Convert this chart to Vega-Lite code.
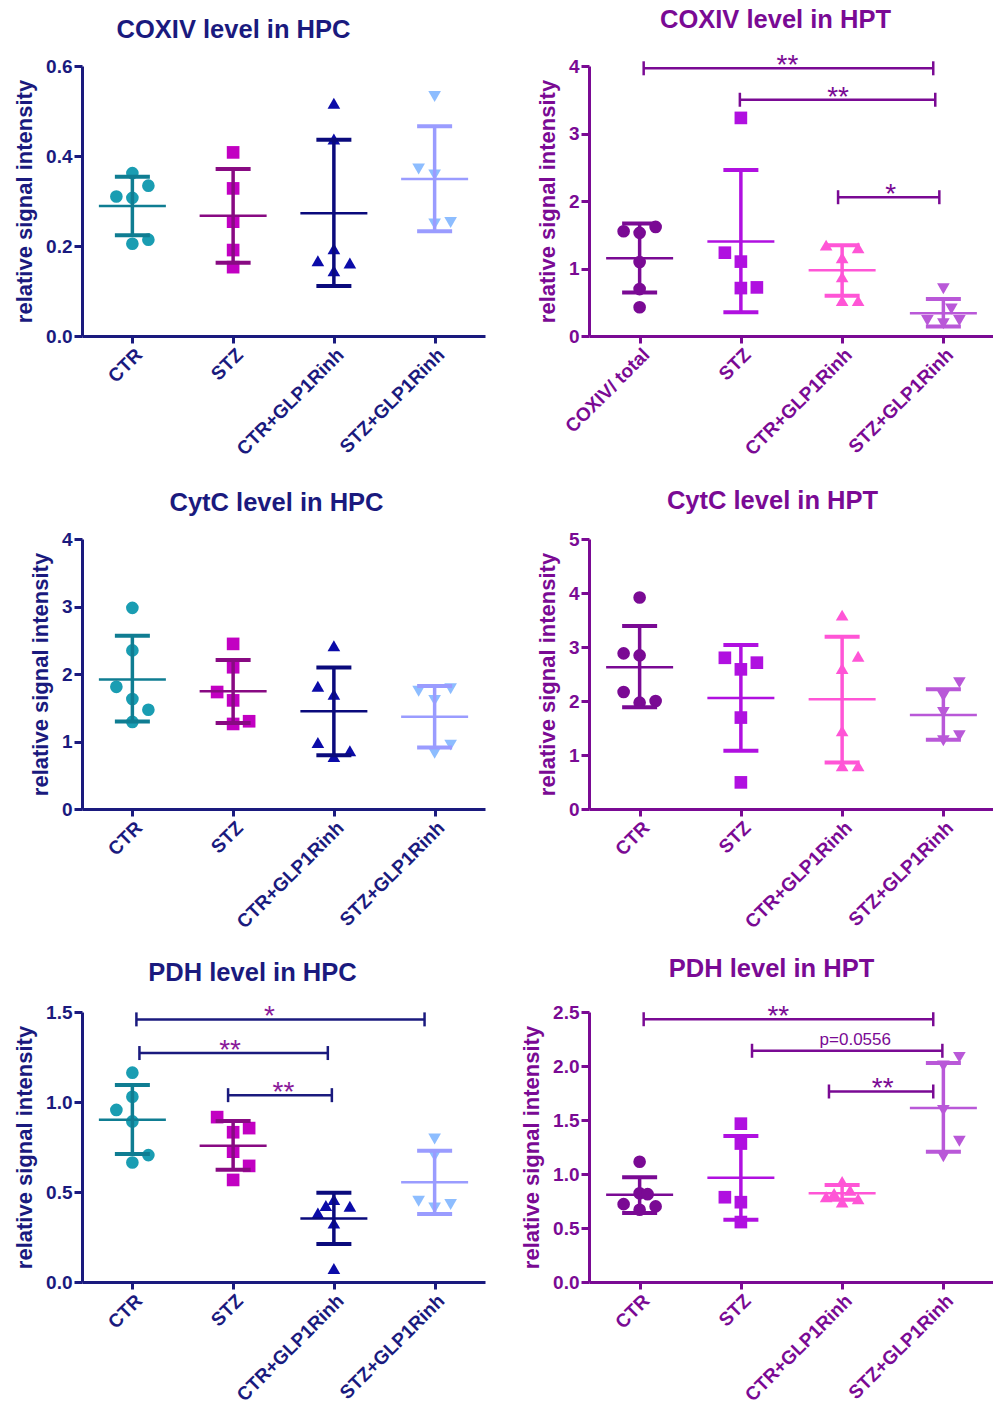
{
"$schema": "https://vega.github.io/schema/vega-lite/v6.json",
"padding": {"left": 13, "top": 7, "right": 0, "bottom": 0},
"columns": 2,
"bounds": "flush",
"spacing": {"row": 203, "column": 104},
"config": {
  "font": "Liberation Sans",
  "view": {"stroke": null},
  "axis": {"grid": false, "domainWidth": 3, "tickWidth": 3, "tickSize": 8, "labelFont": "Liberation Sans", "labelFontSize": 19, "labelFontWeight": "bold", "labelPadding": 2, "titleFont": "Liberation Sans", "titleFontSize": 22, "titleFontWeight": "bold", "titlePadding": 9},
  "title": {"font": "Liberation Sans", "fontSize": 25.5, "fontWeight": "bold", "anchor": "middle", "frame": "group", "offset": 14}
},
"datasets": {
  "pts": [
    {"panel":"A","group":"CTR","col":0,"v":0.362},{"panel":"A","group":"CTR","col":1,"v":0.334},{"panel":"A","group":"CTR","col":-1,"v":0.310},{"panel":"A","group":"CTR","col":0,"v":0.307},{"panel":"A","group":"CTR","col":0,"v":0.205},{"panel":"A","group":"CTR","col":1,"v":0.214},
    {"panel":"A","group":"STZ","col":0,"v":0.408},{"panel":"A","group":"STZ","col":0,"v":0.328},{"panel":"A","group":"STZ","col":0,"v":0.254},{"panel":"A","group":"STZ","col":0,"v":0.191},{"panel":"A","group":"STZ","col":0,"v":0.153},
    {"panel":"A","group":"CTR+GLP1Rinh","col":0,"v":0.517},{"panel":"A","group":"CTR+GLP1Rinh","col":0,"v":0.438},{"panel":"A","group":"CTR+GLP1Rinh","col":0,"v":0.194},{"panel":"A","group":"CTR+GLP1Rinh","col":-1,"v":0.167},{"panel":"A","group":"CTR+GLP1Rinh","col":1,"v":0.162},{"panel":"A","group":"CTR+GLP1Rinh","col":0,"v":0.145},
    {"panel":"A","group":"STZ+GLP1Rinh","col":0,"v":0.532},{"panel":"A","group":"STZ+GLP1Rinh","col":-1,"v":0.371},{"panel":"A","group":"STZ+GLP1Rinh","col":0,"v":0.358},{"panel":"A","group":"STZ+GLP1Rinh","col":0,"v":0.249},{"panel":"A","group":"STZ+GLP1Rinh","col":1,"v":0.252},

    {"panel":"B","group":"CTR","col":-1,"v":1.552},{"panel":"B","group":"CTR","col":0,"v":1.528},{"panel":"B","group":"CTR","col":1,"v":1.616},{"panel":"B","group":"CTR","col":0,"v":1.097},{"panel":"B","group":"CTR","col":0,"v":0.695},{"panel":"B","group":"CTR","col":0,"v":0.426},
    {"panel":"B","group":"STZ","col":0,"v":3.231},{"panel":"B","group":"STZ","col":-1,"v":1.234},{"panel":"B","group":"STZ","col":0,"v":1.102},{"panel":"B","group":"STZ","col":0,"v":0.71},{"panel":"B","group":"STZ","col":1,"v":0.72},
    {"panel":"B","group":"CTR+GLP1Rinh","col":-1,"v":1.346},{"panel":"B","group":"CTR+GLP1Rinh","col":1,"v":1.307},{"panel":"B","group":"CTR+GLP1Rinh","col":0,"v":1.16},{"panel":"B","group":"CTR+GLP1Rinh","col":0,"v":0.876},{"panel":"B","group":"CTR+GLP1Rinh","col":0,"v":0.524},{"panel":"B","group":"CTR+GLP1Rinh","col":1,"v":0.524},
    {"panel":"B","group":"STZ+GLP1Rinh","col":0,"v":0.70},{"panel":"B","group":"STZ+GLP1Rinh","col":0.5,"v":0.40},{"panel":"B","group":"STZ+GLP1Rinh","col":-1,"v":0.23},{"panel":"B","group":"STZ+GLP1Rinh","col":1,"v":0.23},{"panel":"B","group":"STZ+GLP1Rinh","col":0,"v":0.18},

    {"panel":"C","group":"CTR","col":0,"v":2.98},{"panel":"C","group":"CTR","col":0,"v":2.35},{"panel":"C","group":"CTR","col":-1,"v":1.81},{"panel":"C","group":"CTR","col":0,"v":1.63},{"panel":"C","group":"CTR","col":1,"v":1.47},{"panel":"C","group":"CTR","col":0,"v":1.29},
    {"panel":"C","group":"STZ","col":0,"v":2.446},{"panel":"C","group":"STZ","col":0,"v":2.10},{"panel":"C","group":"STZ","col":-1,"v":1.733},{"panel":"C","group":"STZ","col":0,"v":1.609},{"panel":"C","group":"STZ","col":1,"v":1.30},{"panel":"C","group":"STZ","col":0,"v":1.26},
    {"panel":"C","group":"CTR+GLP1Rinh","col":0,"v":2.42},{"panel":"C","group":"CTR+GLP1Rinh","col":-1,"v":1.82},{"panel":"C","group":"CTR+GLP1Rinh","col":0,"v":1.70},{"panel":"C","group":"CTR+GLP1Rinh","col":-1,"v":0.986},{"panel":"C","group":"CTR+GLP1Rinh","col":1,"v":0.862},{"panel":"C","group":"CTR+GLP1Rinh","col":0,"v":0.777},
    {"panel":"C","group":"STZ+GLP1Rinh","col":-1,"v":1.743},{"panel":"C","group":"STZ+GLP1Rinh","col":1,"v":1.78},{"panel":"C","group":"STZ+GLP1Rinh","col":0,"v":1.609},{"panel":"C","group":"STZ+GLP1Rinh","col":1,"v":0.946},{"panel":"C","group":"STZ+GLP1Rinh","col":0,"v":0.827},

    {"panel":"D","group":"CTR","col":0,"v":3.916},{"panel":"D","group":"CTR","col":-1,"v":2.882},{"panel":"D","group":"CTR","col":0,"v":2.845},{"panel":"D","group":"CTR","col":-1,"v":2.167},{"panel":"D","group":"CTR","col":0,"v":1.97},{"panel":"D","group":"CTR","col":1,"v":2.0},
    {"panel":"D","group":"STZ","col":-1,"v":2.80},{"panel":"D","group":"STZ","col":1,"v":2.71},{"panel":"D","group":"STZ","col":0,"v":2.586},{"panel":"D","group":"STZ","col":0,"v":1.693},{"panel":"D","group":"STZ","col":0,"v":0.493},
    {"panel":"D","group":"CTR+GLP1Rinh","col":0,"v":3.59},{"panel":"D","group":"CTR+GLP1Rinh","col":1,"v":2.83},{"panel":"D","group":"CTR+GLP1Rinh","col":0,"v":2.60},{"panel":"D","group":"CTR+GLP1Rinh","col":0,"v":1.447},{"panel":"D","group":"CTR+GLP1Rinh","col":0,"v":0.80},{"panel":"D","group":"CTR+GLP1Rinh","col":1,"v":0.80},
    {"panel":"D","group":"STZ+GLP1Rinh","col":1,"v":2.34},{"panel":"D","group":"STZ+GLP1Rinh","col":0,"v":2.09},{"panel":"D","group":"STZ+GLP1Rinh","col":0,"v":1.786},{"panel":"D","group":"STZ+GLP1Rinh","col":1,"v":1.355},{"panel":"D","group":"STZ+GLP1Rinh","col":0,"v":1.262},

    {"panel":"E","group":"CTR","col":0,"v":1.163},{"panel":"E","group":"CTR","col":0,"v":1.029},{"panel":"E","group":"CTR","col":-1,"v":0.956},{"panel":"E","group":"CTR","col":0,"v":0.892},{"panel":"E","group":"CTR","col":1,"v":0.705},{"panel":"E","group":"CTR","col":0,"v":0.664},
    {"panel":"E","group":"STZ","col":-1,"v":0.916},{"panel":"E","group":"STZ","col":1,"v":0.855},{"panel":"E","group":"STZ","col":0,"v":0.832},{"panel":"E","group":"STZ","col":0,"v":0.724},{"panel":"E","group":"STZ","col":1,"v":0.645},{"panel":"E","group":"STZ","col":0,"v":0.567},
    {"panel":"E","group":"CTR+GLP1Rinh","col":0,"v":0.458},{"panel":"E","group":"CTR+GLP1Rinh","col":-0.5,"v":0.425},{"panel":"E","group":"CTR+GLP1Rinh","col":-1,"v":0.383},{"panel":"E","group":"CTR+GLP1Rinh","col":1,"v":0.421},{"panel":"E","group":"CTR+GLP1Rinh","col":0,"v":0.327},{"panel":"E","group":"CTR+GLP1Rinh","col":0,"v":0.075},
    {"panel":"E","group":"STZ+GLP1Rinh","col":0,"v":0.795},{"panel":"E","group":"STZ+GLP1Rinh","col":0,"v":0.70},{"panel":"E","group":"STZ+GLP1Rinh","col":-1,"v":0.449},{"panel":"E","group":"STZ+GLP1Rinh","col":1,"v":0.43},{"panel":"E","group":"STZ+GLP1Rinh","col":0,"v":0.411},

    {"panel":"F","group":"CTR","col":0,"v":1.113},{"panel":"F","group":"CTR","col":0,"v":0.822},{"panel":"F","group":"CTR","col":0.5,"v":0.813},{"panel":"F","group":"CTR","col":-1,"v":0.721},{"panel":"F","group":"CTR","col":1,"v":0.70},{"panel":"F","group":"CTR","col":0,"v":0.669},
    {"panel":"F","group":"STZ","col":0,"v":1.466},{"panel":"F","group":"STZ","col":0,"v":1.282},{"panel":"F","group":"STZ","col":-1,"v":0.785},{"panel":"F","group":"STZ","col":0,"v":0.739},{"panel":"F","group":"STZ","col":0,"v":0.555},
    {"panel":"F","group":"CTR+GLP1Rinh","col":0,"v":0.93},{"panel":"F","group":"CTR+GLP1Rinh","col":0.5,"v":0.85},{"panel":"F","group":"CTR+GLP1Rinh","col":-0.5,"v":0.82},{"panel":"F","group":"CTR+GLP1Rinh","col":-1,"v":0.79},{"panel":"F","group":"CTR+GLP1Rinh","col":1,"v":0.77},{"panel":"F","group":"CTR+GLP1Rinh","col":0,"v":0.74},
    {"panel":"F","group":"STZ+GLP1Rinh","col":1,"v":2.08},{"panel":"F","group":"STZ+GLP1Rinh","col":0,"v":2.0},{"panel":"F","group":"STZ+GLP1Rinh","col":0,"v":1.589},{"panel":"F","group":"STZ+GLP1Rinh","col":1,"v":1.304},{"panel":"F","group":"STZ+GLP1Rinh","col":0,"v":1.16}
  ],
  "sum": [
    {"panel":"A","group":"CTR","mean":0.289,"lo":0.224,"hi":0.354},{"panel":"A","group":"STZ","mean":0.267,"lo":0.163,"hi":0.371},{"panel":"A","group":"CTR+GLP1Rinh","mean":0.273,"lo":0.111,"hi":0.436},{"panel":"A","group":"STZ+GLP1Rinh","mean":0.349,"lo":0.233,"hi":0.466},
    {"panel":"B","group":"CTR","mean":1.151,"lo":0.646,"hi":1.665},{"panel":"B","group":"STZ","mean":1.40,"lo":0.353,"hi":2.458},{"panel":"B","group":"CTR+GLP1Rinh","mean":0.974,"lo":0.597,"hi":1.346},{"panel":"B","group":"STZ+GLP1Rinh","mean":0.338,"lo":0.141,"hi":0.548},
    {"panel":"C","group":"CTR","mean":1.92,"lo":1.295,"hi":2.565},{"panel":"C","group":"STZ","mean":1.743,"lo":1.275,"hi":2.207},{"panel":"C","group":"CTR+GLP1Rinh","mean":1.45,"lo":0.797,"hi":2.097},{"panel":"C","group":"STZ+GLP1Rinh","mean":1.365,"lo":0.912,"hi":1.823},
    {"panel":"D","group":"CTR","mean":2.623,"lo":1.884,"hi":3.387},{"panel":"D","group":"STZ","mean":2.057,"lo":1.078,"hi":3.036},{"panel":"D","group":"CTR+GLP1Rinh","mean":2.032,"lo":0.862,"hi":3.19},{"panel":"D","group":"STZ+GLP1Rinh","mean":1.743,"lo":1.281,"hi":2.217},
    {"panel":"E","group":"CTR","mean":0.901,"lo":0.711,"hi":1.094},{"panel":"E","group":"STZ","mean":0.757,"lo":0.623,"hi":0.894},{"panel":"E","group":"CTR+GLP1Rinh","mean":0.353,"lo":0.211,"hi":0.496},{"panel":"E","group":"STZ+GLP1Rinh","mean":0.554,"lo":0.378,"hi":0.729},
    {"panel":"F","group":"CTR","mean":0.807,"lo":0.638,"hi":0.969},{"panel":"F","group":"STZ","mean":0.966,"lo":0.577,"hi":1.353},{"panel":"F","group":"CTR+GLP1Rinh","mean":0.822,"lo":0.761,"hi":0.899},{"panel":"F","group":"STZ+GLP1Rinh","mean":1.61,"lo":1.206,"hi":2.028}
  ],
  "brk": [
    {"panel":"B","a":1.04,"b":3.90,"y":3.966,"lx":2.46,"label":"**"},
    {"panel":"B","a":1.99,"b":3.92,"y":3.50,"lx":2.96,"label":"**"},
    {"panel":"B","a":2.96,"b":3.96,"y":2.056,"lx":3.48,"label":"*"},
    {"panel":"E","a":1.04,"b":3.90,"y":1.459,"lx":2.36,"label":"*"},
    {"panel":"E","a":1.07,"b":2.94,"y":1.272,"lx":1.97,"label":"**"},
    {"panel":"E","a":1.95,"b":2.98,"y":1.038,"lx":2.5,"label":"**"},
    {"panel":"F","a":1.04,"b":3.90,"y":2.433,"lx":2.37,"label":"**"},
    {"panel":"F","a":2.11,"b":3.99,"y":2.141,"lx":3.13,"label":"p=0.0556"},
    {"panel":"F","a":2.87,"b":3.90,"y":1.764,"lx":3.40,"label":"**"}
  ]
},
"concat": [
  {
    "width": 403, "height": 270,
    "title": {"text": "COXIV level in HPC", "color": "#1a1a7e", "dx": -50},
    "layer": [
      {"data": {"name": "pts"}, "transform": [{"filter": "datum.panel=='A'"}],
       "mark": {"type": "point", "filled": true, "opacity": 1, "size": 160},
       "encoding": {
         "x": {"field": "group", "type": "nominal", "scale": {"type": "point", "domain": ["CTR","STZ","CTR+GLP1Rinh","STZ+GLP1Rinh"], "padding": 0.5},
               "axis": {"labelAngle": -45, "title": null, "tickSize": 7, "domainColor": "#1a1a7e", "tickColor": "#1a1a7e", "labelColor": "#1a1a7e"}},
         "xOffset": {"field": "col", "type": "quantitative", "scale": {"domain": [-1, 1], "range": [-16, 16]}},
         "y": {"field": "v", "type": "quantitative", "scale": {"domain": [0, 0.6], "nice": false},
               "axis": {"values": [0, 0.2, 0.4, 0.6], "format": ".1f", "title": "relative signal intensity", "domainColor": "#1a1a7e", "tickColor": "#1a1a7e", "labelColor": "#1a1a7e", "titleColor": "#1a1a7e"}},
         "color": {"field": "group", "type": "nominal", "scale": {"domain": ["CTR","STZ","CTR+GLP1Rinh","STZ+GLP1Rinh"], "range": ["#1a9db2","#c200c2","#0b0ba8","#8dbdff"]}, "legend": null},
         "shape": {"field": "group", "type": "nominal", "scale": {"domain": ["CTR","STZ","CTR+GLP1Rinh","STZ+GLP1Rinh"], "range": ["circle","square","triangle-up","triangle-down"]}, "legend": null}
       }},
      {"data": {"name": "sum"}, "transform": [{"filter": "datum.panel=='A'"}],
       "encoding": {"x": {"field": "group", "type": "nominal", "scale": {"type": "point", "domain": ["CTR","STZ","CTR+GLP1Rinh","STZ+GLP1Rinh"], "padding": 0.5}, "axis": null},
                    "color": {"field": "group", "type": "nominal", "scale": {"domain": ["CTR","STZ","CTR+GLP1Rinh","STZ+GLP1Rinh"], "range": ["#0f7d92","#880a82","#0a0a7c","#9a9cff"]}, "legend": null}},
       "layer": [
         {"mark": {"type": "rule", "strokeWidth": 3.5}, "encoding": {"y": {"field": "lo", "type": "quantitative"}, "y2": {"field": "hi"}}},
         {"mark": {"type": "tick", "orient": "horizontal", "size": 35, "thickness": 4, "opacity": 1}, "encoding": {"y": {"field": "lo", "type": "quantitative"}}},
         {"mark": {"type": "tick", "orient": "horizontal", "size": 35, "thickness": 4, "opacity": 1}, "encoding": {"y": {"field": "hi", "type": "quantitative"}}},
         {"mark": {"type": "tick", "orient": "horizontal", "size": 67, "thickness": 2.5, "opacity": 1}, "encoding": {"y": {"field": "mean", "type": "quantitative"}}}
       ]}
    ],
    "resolve": {"scale": {"color": "independent", "x": "independent"}}
  },
  {
    "width": 405, "height": 270,
    "title": {"text": "COXIV level in HPT", "color": "#7a0a94", "dx": -16, "offset": 19},
    "layer": [
      {"data": {"name": "pts"}, "transform": [{"filter": "datum.panel=='B'"}],
       "mark": {"type": "point", "filled": true, "opacity": 1, "size": 160},
       "encoding": {
         "x": {"field": "group", "type": "nominal", "scale": {"type": "point", "domain": ["CTR","STZ","CTR+GLP1Rinh","STZ+GLP1Rinh"], "padding": 0.5},
               "axis": {"labelExpr": "datum.value == 'CTR' ? 'COXIV/ total' : datum.value", "labelAngle": -45, "title": null, "tickSize": 7, "domainColor": "#7a0a94", "tickColor": "#7a0a94", "labelColor": "#7a0a94"}},
         "xOffset": {"field": "col", "type": "quantitative", "scale": {"domain": [-1, 1], "range": [-16, 16]}},
         "y": {"field": "v", "type": "quantitative", "scale": {"domain": [0, 4], "nice": false},
               "axis": {"values": [0,1,2,3,4], "format": "d", "title": "relative signal intensity", "domainColor": "#7a0a94", "tickColor": "#7a0a94", "labelColor": "#7a0a94", "titleColor": "#7a0a94"}},
         "color": {"field": "group", "type": "nominal", "scale": {"domain": ["CTR","STZ","CTR+GLP1Rinh","STZ+GLP1Rinh"], "range": ["#7a0a94","#b010e0","#ff55d6","#b958d8"]}, "legend": null},
         "shape": {"field": "group", "type": "nominal", "scale": {"domain": ["CTR","STZ","CTR+GLP1Rinh","STZ+GLP1Rinh"], "range": ["circle","square","triangle-up","triangle-down"]}, "legend": null}
       }},
      {"data": {"name": "sum"}, "transform": [{"filter": "datum.panel=='B'"}],
       "encoding": {"x": {"field": "group", "type": "nominal", "scale": {"type": "point", "domain": ["CTR","STZ","CTR+GLP1Rinh","STZ+GLP1Rinh"], "padding": 0.5}, "axis": null},
                    "color": {"field": "group", "type": "nominal", "scale": {"domain": ["CTR","STZ","CTR+GLP1Rinh","STZ+GLP1Rinh"], "range": ["#7a0a94","#b010e0","#ff55d6","#b958d8"]}, "legend": null}},
       "layer": [
         {"mark": {"type": "rule", "strokeWidth": 3.5}, "encoding": {"y": {"field": "lo", "type": "quantitative"}, "y2": {"field": "hi"}}},
         {"mark": {"type": "tick", "orient": "horizontal", "size": 35, "thickness": 4, "opacity": 1}, "encoding": {"y": {"field": "lo", "type": "quantitative"}}},
         {"mark": {"type": "tick", "orient": "horizontal", "size": 35, "thickness": 4, "opacity": 1}, "encoding": {"y": {"field": "hi", "type": "quantitative"}}},
         {"mark": {"type": "tick", "orient": "horizontal", "size": 67, "thickness": 2.5, "opacity": 1}, "encoding": {"y": {"field": "mean", "type": "quantitative"}}}
       ]},
      {"data": {"name": "brk"}, "transform": [{"filter": "datum.panel=='B'"}],
       "layer": [
         {"mark": {"type": "rule", "strokeWidth": 2.5, "color": "#7a0a94"}, "encoding": {"x": {"field": "a", "type": "quantitative", "scale": {"domain": [0.5, 4.5], "nice": false, "zero": false}, "axis": null}, "x2": {"field": "b"}, "y": {"field": "y", "type": "quantitative"}}},
         {"mark": {"type": "tick", "orient": "vertical", "size": 14, "thickness": 2.5, "color": "#7a0a94", "opacity": 1}, "encoding": {"x": {"field": "a", "type": "quantitative", "axis": null}, "y": {"field": "y", "type": "quantitative"}}},
         {"mark": {"type": "tick", "orient": "vertical", "size": 14, "thickness": 2.5, "color": "#7a0a94", "opacity": 1}, "encoding": {"x": {"field": "b", "type": "quantitative", "axis": null}, "y": {"field": "y", "type": "quantitative"}}},
         {"mark": {"type": "text", "fontSize": 28, "baseline": "alphabetic", "dy": 6, "color": "#7a0a94"}, "encoding": {"x": {"field": "lx", "type": "quantitative", "axis": null}, "y": {"field": "y", "type": "quantitative"}, "text": {"field": "label"}}}
       ]}
    ],
    "resolve": {"scale": {"color": "independent", "x": "independent"}}
  },
  {
    "width": 403, "height": 270,
    "title": {"text": "CytC level in HPC", "color": "#1a1a7e", "dx": -7},
    "layer": [
      {"data": {"name": "pts"}, "transform": [{"filter": "datum.panel=='C'"}],
       "mark": {"type": "point", "filled": true, "opacity": 1, "size": 160},
       "encoding": {
         "x": {"field": "group", "type": "nominal", "scale": {"type": "point", "domain": ["CTR","STZ","CTR+GLP1Rinh","STZ+GLP1Rinh"], "padding": 0.5},
               "axis": {"labelAngle": -45, "title": null, "tickSize": 7, "domainColor": "#1a1a7e", "tickColor": "#1a1a7e", "labelColor": "#1a1a7e"}},
         "xOffset": {"field": "col", "type": "quantitative", "scale": {"domain": [-1, 1], "range": [-16, 16]}},
         "y": {"field": "v", "type": "quantitative", "scale": {"domain": [0, 4], "nice": false},
               "axis": {"values": [0,1,2,3,4], "format": "d", "title": "relative signal intensity", "domainColor": "#1a1a7e", "tickColor": "#1a1a7e", "labelColor": "#1a1a7e", "titleColor": "#1a1a7e"}},
         "color": {"field": "group", "type": "nominal", "scale": {"domain": ["CTR","STZ","CTR+GLP1Rinh","STZ+GLP1Rinh"], "range": ["#1a9db2","#c200c2","#0b0ba8","#8dbdff"]}, "legend": null},
         "shape": {"field": "group", "type": "nominal", "scale": {"domain": ["CTR","STZ","CTR+GLP1Rinh","STZ+GLP1Rinh"], "range": ["circle","square","triangle-up","triangle-down"]}, "legend": null}
       }},
      {"data": {"name": "sum"}, "transform": [{"filter": "datum.panel=='C'"}],
       "encoding": {"x": {"field": "group", "type": "nominal", "scale": {"type": "point", "domain": ["CTR","STZ","CTR+GLP1Rinh","STZ+GLP1Rinh"], "padding": 0.5}, "axis": null},
                    "color": {"field": "group", "type": "nominal", "scale": {"domain": ["CTR","STZ","CTR+GLP1Rinh","STZ+GLP1Rinh"], "range": ["#0f7d92","#880a82","#0a0a7c","#9a9cff"]}, "legend": null}},
       "layer": [
         {"mark": {"type": "rule", "strokeWidth": 3.5}, "encoding": {"y": {"field": "lo", "type": "quantitative"}, "y2": {"field": "hi"}}},
         {"mark": {"type": "tick", "orient": "horizontal", "size": 35, "thickness": 4, "opacity": 1}, "encoding": {"y": {"field": "lo", "type": "quantitative"}}},
         {"mark": {"type": "tick", "orient": "horizontal", "size": 35, "thickness": 4, "opacity": 1}, "encoding": {"y": {"field": "hi", "type": "quantitative"}}},
         {"mark": {"type": "tick", "orient": "horizontal", "size": 67, "thickness": 2.5, "opacity": 1}, "encoding": {"y": {"field": "mean", "type": "quantitative"}}}
       ]}
    ],
    "resolve": {"scale": {"color": "independent", "x": "independent"}}
  },
  {
    "width": 405, "height": 270,
    "title": {"text": "CytC level in HPT", "color": "#7a0a94", "dx": -19, "offset": 16},
    "layer": [
      {"data": {"name": "pts"}, "transform": [{"filter": "datum.panel=='D'"}],
       "mark": {"type": "point", "filled": true, "opacity": 1, "size": 160},
       "encoding": {
         "x": {"field": "group", "type": "nominal", "scale": {"type": "point", "domain": ["CTR","STZ","CTR+GLP1Rinh","STZ+GLP1Rinh"], "padding": 0.5},
               "axis": {"labelAngle": -45, "title": null, "tickSize": 7, "domainColor": "#7a0a94", "tickColor": "#7a0a94", "labelColor": "#7a0a94"}},
         "xOffset": {"field": "col", "type": "quantitative", "scale": {"domain": [-1, 1], "range": [-16, 16]}},
         "y": {"field": "v", "type": "quantitative", "scale": {"domain": [0, 5], "nice": false},
               "axis": {"values": [0,1,2,3,4,5], "format": "d", "title": "relative signal intensity", "domainColor": "#7a0a94", "tickColor": "#7a0a94", "labelColor": "#7a0a94", "titleColor": "#7a0a94"}},
         "color": {"field": "group", "type": "nominal", "scale": {"domain": ["CTR","STZ","CTR+GLP1Rinh","STZ+GLP1Rinh"], "range": ["#7a0a94","#b010e0","#ff55d6","#b958d8"]}, "legend": null},
         "shape": {"field": "group", "type": "nominal", "scale": {"domain": ["CTR","STZ","CTR+GLP1Rinh","STZ+GLP1Rinh"], "range": ["circle","square","triangle-up","triangle-down"]}, "legend": null}
       }},
      {"data": {"name": "sum"}, "transform": [{"filter": "datum.panel=='D'"}],
       "encoding": {"x": {"field": "group", "type": "nominal", "scale": {"type": "point", "domain": ["CTR","STZ","CTR+GLP1Rinh","STZ+GLP1Rinh"], "padding": 0.5}, "axis": null},
                    "color": {"field": "group", "type": "nominal", "scale": {"domain": ["CTR","STZ","CTR+GLP1Rinh","STZ+GLP1Rinh"], "range": ["#7a0a94","#b010e0","#ff55d6","#b958d8"]}, "legend": null}},
       "layer": [
         {"mark": {"type": "rule", "strokeWidth": 3.5}, "encoding": {"y": {"field": "lo", "type": "quantitative"}, "y2": {"field": "hi"}}},
         {"mark": {"type": "tick", "orient": "horizontal", "size": 35, "thickness": 4, "opacity": 1}, "encoding": {"y": {"field": "lo", "type": "quantitative"}}},
         {"mark": {"type": "tick", "orient": "horizontal", "size": 35, "thickness": 4, "opacity": 1}, "encoding": {"y": {"field": "hi", "type": "quantitative"}}},
         {"mark": {"type": "tick", "orient": "horizontal", "size": 67, "thickness": 2.5, "opacity": 1}, "encoding": {"y": {"field": "mean", "type": "quantitative"}}}
       ]}
    ],
    "resolve": {"scale": {"color": "independent", "x": "independent"}}
  },
  {
    "width": 403, "height": 270,
    "title": {"text": "PDH level in HPC", "color": "#1a1a7e", "dx": -31, "offset": 17},
    "layer": [
      {"data": {"name": "pts"}, "transform": [{"filter": "datum.panel=='E'"}],
       "mark": {"type": "point", "filled": true, "opacity": 1, "size": 160},
       "encoding": {
         "x": {"field": "group", "type": "nominal", "scale": {"type": "point", "domain": ["CTR","STZ","CTR+GLP1Rinh","STZ+GLP1Rinh"], "padding": 0.5},
               "axis": {"labelAngle": -45, "title": null, "tickSize": 7, "domainColor": "#1a1a7e", "tickColor": "#1a1a7e", "labelColor": "#1a1a7e"}},
         "xOffset": {"field": "col", "type": "quantitative", "scale": {"domain": [-1, 1], "range": [-16, 16]}},
         "y": {"field": "v", "type": "quantitative", "scale": {"domain": [0, 1.5], "nice": false},
               "axis": {"values": [0, 0.5, 1, 1.5], "format": ".1f", "title": "relative signal intensity", "domainColor": "#1a1a7e", "tickColor": "#1a1a7e", "labelColor": "#1a1a7e", "titleColor": "#1a1a7e"}},
         "color": {"field": "group", "type": "nominal", "scale": {"domain": ["CTR","STZ","CTR+GLP1Rinh","STZ+GLP1Rinh"], "range": ["#1a9db2","#c200c2","#0b0ba8","#8dbdff"]}, "legend": null},
         "shape": {"field": "group", "type": "nominal", "scale": {"domain": ["CTR","STZ","CTR+GLP1Rinh","STZ+GLP1Rinh"], "range": ["circle","square","triangle-up","triangle-down"]}, "legend": null}
       }},
      {"data": {"name": "sum"}, "transform": [{"filter": "datum.panel=='E'"}],
       "encoding": {"x": {"field": "group", "type": "nominal", "scale": {"type": "point", "domain": ["CTR","STZ","CTR+GLP1Rinh","STZ+GLP1Rinh"], "padding": 0.5}, "axis": null},
                    "color": {"field": "group", "type": "nominal", "scale": {"domain": ["CTR","STZ","CTR+GLP1Rinh","STZ+GLP1Rinh"], "range": ["#0f7d92","#880a82","#0a0a7c","#9a9cff"]}, "legend": null}},
       "layer": [
         {"mark": {"type": "rule", "strokeWidth": 3.5}, "encoding": {"y": {"field": "lo", "type": "quantitative"}, "y2": {"field": "hi"}}},
         {"mark": {"type": "tick", "orient": "horizontal", "size": 35, "thickness": 4, "opacity": 1}, "encoding": {"y": {"field": "lo", "type": "quantitative"}}},
         {"mark": {"type": "tick", "orient": "horizontal", "size": 35, "thickness": 4, "opacity": 1}, "encoding": {"y": {"field": "hi", "type": "quantitative"}}},
         {"mark": {"type": "tick", "orient": "horizontal", "size": 67, "thickness": 2.5, "opacity": 1}, "encoding": {"y": {"field": "mean", "type": "quantitative"}}}
       ]},
      {"data": {"name": "brk"}, "transform": [{"filter": "datum.panel=='E'"}],
       "layer": [
         {"mark": {"type": "rule", "strokeWidth": 2.5, "color": "#1a1a7e"}, "encoding": {"x": {"field": "a", "type": "quantitative", "scale": {"domain": [0.5, 4.5], "nice": false, "zero": false}, "axis": null}, "x2": {"field": "b"}, "y": {"field": "y", "type": "quantitative"}}},
         {"mark": {"type": "tick", "orient": "vertical", "size": 14, "thickness": 2.5, "color": "#1a1a7e", "opacity": 1}, "encoding": {"x": {"field": "a", "type": "quantitative", "axis": null}, "y": {"field": "y", "type": "quantitative"}}},
         {"mark": {"type": "tick", "orient": "vertical", "size": 14, "thickness": 2.5, "color": "#1a1a7e", "opacity": 1}, "encoding": {"x": {"field": "b", "type": "quantitative", "axis": null}, "y": {"field": "y", "type": "quantitative"}}},
         {"mark": {"type": "text", "fontSize": 28, "baseline": "alphabetic", "dy": 6, "color": "#8a1a9a"}, "encoding": {"x": {"field": "lx", "type": "quantitative", "axis": null}, "y": {"field": "y", "type": "quantitative"}, "text": {"field": "label"}}}
       ]}
    ],
    "resolve": {"scale": {"color": "independent", "x": "independent"}}
  },
  {
    "width": 405, "height": 270,
    "title": {"text": "PDH level in HPT", "color": "#7a0a94", "dx": -20, "offset": 21},
    "layer": [
      {"data": {"name": "pts"}, "transform": [{"filter": "datum.panel=='F'"}],
       "mark": {"type": "point", "filled": true, "opacity": 1, "size": 160},
       "encoding": {
         "x": {"field": "group", "type": "nominal", "scale": {"type": "point", "domain": ["CTR","STZ","CTR+GLP1Rinh","STZ+GLP1Rinh"], "padding": 0.5},
               "axis": {"labelAngle": -45, "title": null, "tickSize": 7, "domainColor": "#7a0a94", "tickColor": "#7a0a94", "labelColor": "#7a0a94"}},
         "xOffset": {"field": "col", "type": "quantitative", "scale": {"domain": [-1, 1], "range": [-16, 16]}},
         "y": {"field": "v", "type": "quantitative", "scale": {"domain": [0, 2.5], "nice": false},
               "axis": {"values": [0, 0.5, 1, 1.5, 2, 2.5], "format": ".1f", "title": "relative signal intensity", "domainColor": "#7a0a94", "tickColor": "#7a0a94", "labelColor": "#7a0a94", "titleColor": "#7a0a94"}},
         "color": {"field": "group", "type": "nominal", "scale": {"domain": ["CTR","STZ","CTR+GLP1Rinh","STZ+GLP1Rinh"], "range": ["#7a0a94","#b010e0","#ff55d6","#b958d8"]}, "legend": null},
         "shape": {"field": "group", "type": "nominal", "scale": {"domain": ["CTR","STZ","CTR+GLP1Rinh","STZ+GLP1Rinh"], "range": ["circle","square","triangle-up","triangle-down"]}, "legend": null}
       }},
      {"data": {"name": "sum"}, "transform": [{"filter": "datum.panel=='F'"}],
       "encoding": {"x": {"field": "group", "type": "nominal", "scale": {"type": "point", "domain": ["CTR","STZ","CTR+GLP1Rinh","STZ+GLP1Rinh"], "padding": 0.5}, "axis": null},
                    "color": {"field": "group", "type": "nominal", "scale": {"domain": ["CTR","STZ","CTR+GLP1Rinh","STZ+GLP1Rinh"], "range": ["#7a0a94","#b010e0","#ff55d6","#b958d8"]}, "legend": null}},
       "layer": [
         {"mark": {"type": "rule", "strokeWidth": 3.5}, "encoding": {"y": {"field": "lo", "type": "quantitative"}, "y2": {"field": "hi"}}},
         {"mark": {"type": "tick", "orient": "horizontal", "size": 35, "thickness": 4, "opacity": 1}, "encoding": {"y": {"field": "lo", "type": "quantitative"}}},
         {"mark": {"type": "tick", "orient": "horizontal", "size": 35, "thickness": 4, "opacity": 1}, "encoding": {"y": {"field": "hi", "type": "quantitative"}}},
         {"mark": {"type": "tick", "orient": "horizontal", "size": 67, "thickness": 2.5, "opacity": 1}, "encoding": {"y": {"field": "mean", "type": "quantitative"}}}
       ]},
      {"data": {"name": "brk"}, "transform": [{"filter": "datum.panel=='F'"}],
       "layer": [
         {"mark": {"type": "rule", "strokeWidth": 2.5, "color": "#7a0a94"}, "encoding": {"x": {"field": "a", "type": "quantitative", "scale": {"domain": [0.5, 4.5], "nice": false, "zero": false}, "axis": null}, "x2": {"field": "b"}, "y": {"field": "y", "type": "quantitative"}}},
         {"mark": {"type": "tick", "orient": "vertical", "size": 14, "thickness": 2.5, "color": "#7a0a94", "opacity": 1}, "encoding": {"x": {"field": "a", "type": "quantitative", "axis": null}, "y": {"field": "y", "type": "quantitative"}}},
         {"mark": {"type": "tick", "orient": "vertical", "size": 14, "thickness": 2.5, "color": "#7a0a94", "opacity": 1}, "encoding": {"x": {"field": "b", "type": "quantitative", "axis": null}, "y": {"field": "y", "type": "quantitative"}}},
         {"transform": [{"filter": "indexof(datum.label,'*')>=0"}], "mark": {"type": "text", "fontSize": 28, "baseline": "alphabetic", "dy": 6, "color": "#7a0a94"}, "encoding": {"x": {"field": "lx", "type": "quantitative", "axis": null}, "y": {"field": "y", "type": "quantitative"}, "text": {"field": "label"}}},
         {"transform": [{"filter": "indexof(datum.label,'*')<0"}], "mark": {"type": "text", "fontSize": 17, "baseline": "alphabetic", "dy": -6, "color": "#7a0a94"}, "encoding": {"x": {"field": "lx", "type": "quantitative", "axis": null}, "y": {"field": "y", "type": "quantitative"}, "text": {"field": "label"}}}
       ]}
    ],
    "resolve": {"scale": {"color": "independent", "x": "independent"}}
  }
]
}
